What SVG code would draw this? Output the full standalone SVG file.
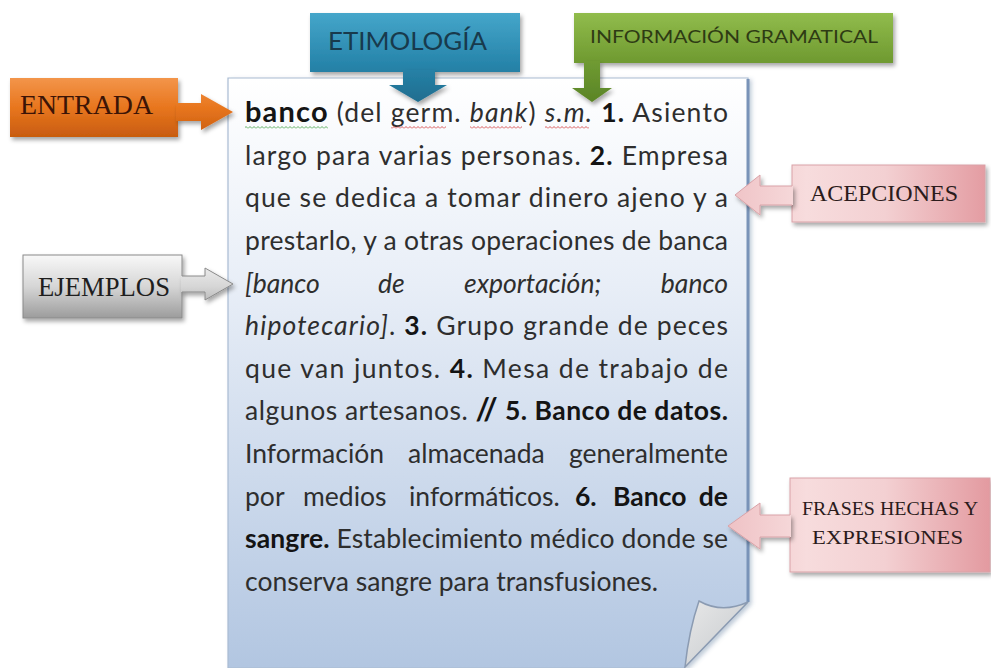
<svg xmlns="http://www.w3.org/2000/svg" width="991" height="668" viewBox="0 0 991 668">
<defs>
<style>
.body{font-family:Lato,"Open Sans","DejaVu Sans",sans-serif;font-size:26.5px;fill:#2e2e2e}
.b{font-weight:bold;fill:#141414}
.i{font-style:italic}
.lbl{font-family:"Liberation Serif","DejaVu Serif",serif}
.sans{font-family:Lato,"Open Sans",sans-serif}
</style>
<filter id="sh" x="-10%" y="-20%" width="130%" height="150%">
<feDropShadow dx="2" dy="3" stdDeviation="2" flood-color="#000" flood-opacity="0.35"/>
</filter>
<filter id="psh" x="-5%" y="-5%" width="115%" height="115%">
<feDropShadow dx="3" dy="2" stdDeviation="2" flood-color="#4a6a90" flood-opacity="0.35"/>
</filter>
<linearGradient id="gPage" x1="0" y1="78" x2="0" y2="668" gradientUnits="userSpaceOnUse">
<stop offset="0" stop-color="#ffffff"/><stop offset="0.35" stop-color="#e8eef7"/><stop offset="1" stop-color="#b2c6e1"/>
</linearGradient>
<linearGradient id="gFold" x1="0" y1="0" x2="1" y2="1">
<stop offset="0" stop-color="#e8e8e8"/><stop offset="1" stop-color="#c4c8cc"/>
</linearGradient>
<linearGradient id="gBlue" x1="0" y1="13" x2="0" y2="102" gradientUnits="userSpaceOnUse">
<stop offset="0" stop-color="#45a6ca"/><stop offset="0.55" stop-color="#2886ac"/><stop offset="1" stop-color="#1f6d8f"/>
</linearGradient>
<linearGradient id="gGreen" x1="0" y1="13" x2="0" y2="102" gradientUnits="userSpaceOnUse">
<stop offset="0" stop-color="#91bc4c"/><stop offset="0.5" stop-color="#729d33"/><stop offset="1" stop-color="#5a8426"/>
</linearGradient>
<linearGradient id="gOrange" x1="0" y1="78" x2="0" y2="137" gradientUnits="userSpaceOnUse">
<stop offset="0" stop-color="#f3954a"/><stop offset="0.5" stop-color="#e8761e"/><stop offset="1" stop-color="#c85c10"/>
</linearGradient>
<linearGradient id="gGray" x1="0" y1="255" x2="0" y2="318" gradientUnits="userSpaceOnUse">
<stop offset="0" stop-color="#f8f8f8"/><stop offset="0.5" stop-color="#d6d6d6"/><stop offset="1" stop-color="#9c9c9c"/>
</linearGradient>
<linearGradient id="gPink" x1="728" y1="0" x2="990" y2="0" gradientUnits="userSpaceOnUse">
<stop offset="0" stop-color="#efc2c5"/><stop offset="0.3" stop-color="#f7dcdd"/><stop offset="0.6" stop-color="#f3d0d2"/><stop offset="1" stop-color="#e39aa0"/>
</linearGradient>
<pattern id="wavR" width="4" height="3" patternUnits="userSpaceOnUse">
<path d="M0,2.5 L2,0.5 L4,2.5" fill="none" stroke="#d03030" stroke-width="0.8"/>
</pattern>
<pattern id="wavG" width="4" height="3" patternUnits="userSpaceOnUse">
<path d="M0,2.5 L2,0.5 L4,2.5" fill="none" stroke="#3a9a3a" stroke-width="0.8"/>
</pattern>
</defs>

<rect width="991" height="668" fill="#ffffff"/>

<g id="page">
<path d="M228,78 H748 V602 L684,668 H228 Z" fill="url(#gPage)" stroke="#a9bbd2" stroke-width="1.2" filter="url(#psh)"/>
<path d="M748,79 V602" stroke="#7993b8" stroke-width="3" fill="none"/>
<path d="M699,601 Q722,614 748,602 L685,667 Q689,630 699,601 Z" fill="url(#gFold)" stroke="#8b9bb2" stroke-width="1.5"/>
</g>

<g id="definition">
<text class="body" x="245" y="122" textLength="483" lengthAdjust="spacing"><tspan class="b" font-size="29">banco</tspan> (del germ. <tspan class="i">bank</tspan>) <tspan class="i">s.m.</tspan> <tspan class="b">1.</tspan> Asiento</text>
<text class="body" x="245" y="164.6" textLength="483" lengthAdjust="spacing">largo para varias personas. <tspan class="b">2.</tspan> Empresa</text>
<text class="body" x="245" y="207.3" textLength="483" lengthAdjust="spacing">que se dedica a tomar dinero ajeno y a</text>
<text class="body" x="245" y="249.9" textLength="483" lengthAdjust="spacing">prestarlo, y a otras operaciones de banca</text>
<text class="body i" y="292.5"><tspan x="245">[banco</tspan><tspan x="378">de</tspan><tspan x="464">exportación;</tspan></text>
<text class="body i" x="728" y="292.5" text-anchor="end">banco</text>
<text class="body" x="245" y="335.1" textLength="483" lengthAdjust="spacing"><tspan class="i">hipotecario]</tspan>. <tspan class="b">3.</tspan> Grupo grande de peces</text>
<text class="body" x="245" y="377.7" textLength="483" lengthAdjust="spacing">que van juntos. <tspan class="b">4.</tspan> Mesa de trabajo de</text>
<text class="body" x="245" y="420.4" textLength="483" lengthAdjust="spacing">algunos artesanos. <tspan class="b"><tspan font-size="31">//</tspan> 5. Banco de datos.</tspan></text>
<text class="body" y="463"><tspan x="245">Información</tspan><tspan x="408">almacenada</tspan></text>
<text class="body" x="728" y="463" text-anchor="end">generalmente</text>
<text class="body" y="505.6"><tspan x="245">por</tspan><tspan x="303">medios</tspan><tspan x="409">informáticos.</tspan><tspan class="b" x="575">6.</tspan><tspan class="b" x="613">Banco</tspan></text>
<text class="body b" x="728" y="505.6" text-anchor="end">de</text>
<text class="body" x="245" y="548.2" textLength="483" lengthAdjust="spacing"><tspan class="b">sangre.</tspan> Establecimiento médico donde se</text>
<text class="body" x="245" y="590.8">conserva sangre para transfusiones.</text>
<rect x="245" y="126" width="83" height="3" fill="url(#wavG)"/>
<rect x="391" y="126" width="55" height="3" fill="url(#wavR)"/>
<rect x="470" y="126" width="52" height="3" fill="url(#wavR)"/>
<rect x="545" y="126" width="44" height="3" fill="url(#wavR)"/>
</g>

<g id="entrada">
<rect x="10" y="78" width="168" height="59" fill="url(#gOrange)" filter="url(#sh)"/>
<text class="lbl" x="20" y="114" font-size="28" textLength="133" lengthAdjust="spacingAndGlyphs" fill="#3c1406">ENTRADA</text>
</g>
<g id="etimologia">
<rect x="310" y="13" width="210" height="59" fill="url(#gBlue)" filter="url(#sh)"/>
<text class="sans" x="328" y="50" font-size="25" textLength="159" lengthAdjust="spacingAndGlyphs" fill="#183a4c">ETIMOLOGÍA</text>
</g>
<g id="informacion">
<rect x="574" y="13" width="319" height="50" fill="url(#gGreen)" filter="url(#sh)"/>
<text class="sans" x="590" y="43" font-size="17" textLength="288" lengthAdjust="spacingAndGlyphs" fill="#2e3b14">INFORMACIÓN GRAMATICAL</text>
</g>
<g id="ejemplos">
<rect x="23" y="255" width="159" height="63" fill="url(#gGray)" stroke="#8a8a8a" stroke-width="1" filter="url(#sh)"/>
<text class="lbl" x="38" y="296" font-size="26.5" textLength="132" lengthAdjust="spacingAndGlyphs" fill="#1e1e1e">EJEMPLOS</text>
</g>
<g id="acepciones">
<rect x="792" y="165" width="193" height="57" fill="url(#gPink)" stroke="#d9a2a7" stroke-width="1" filter="url(#sh)"/>
<text class="lbl" x="810" y="201" font-size="22.5" textLength="148" lengthAdjust="spacingAndGlyphs" fill="#2b1b1b">ACEPCIONES</text>
</g>
<g id="frases">
<rect x="790" y="478" width="200" height="94" fill="url(#gPink)" stroke="#d9a2a7" stroke-width="1" filter="url(#sh)"/>
<text class="lbl" x="802" y="515" font-size="19" textLength="176" lengthAdjust="spacingAndGlyphs" fill="#2b1b1b">FRASES HECHAS Y</text>
<text class="lbl" x="812" y="544" font-size="19" textLength="151" lengthAdjust="spacingAndGlyphs" fill="#2b1b1b">EXPRESIONES</text>
</g>

<g id="connectors" filter="url(#sh)">
<path d="M176,103 H201 V94 L233,112 L201,130 V121 H176 Z" fill="url(#gOrange)"/>
<path d="M403,70 H435 V85 H447 L418,102 L389,85 H403 Z" fill="url(#gBlue)"/>
<path d="M584,61 H600 V88 H612 L592,102 L572,88 H584 Z" fill="url(#gGreen)"/>
<path d="M181,276 H205 V268 L233,284 L205,300 V292 H181 Z" fill="url(#gGray)"/>
<path d="M182,276 H205 V268 L233,284 L205,300 V292 H182" fill="none" stroke="#8a8a8a" stroke-width="1"/>
<path d="M793,186 H760 V175 L735,195 L760,215 V205 H793 Z" fill="url(#gPink)"/>
<path d="M792,186 H760 V175 L735,195 L760,215 V205 H792" fill="none" stroke="#d9a2a7" stroke-width="1"/>
<path d="M791,515 H760 V503 L728,526 L760,549 V537 H791 Z" fill="url(#gPink)"/>
<path d="M790,515 H760 V503 L728,526 L760,549 V537 H790" fill="none" stroke="#d9a2a7" stroke-width="1"/>
</g>
</svg>
